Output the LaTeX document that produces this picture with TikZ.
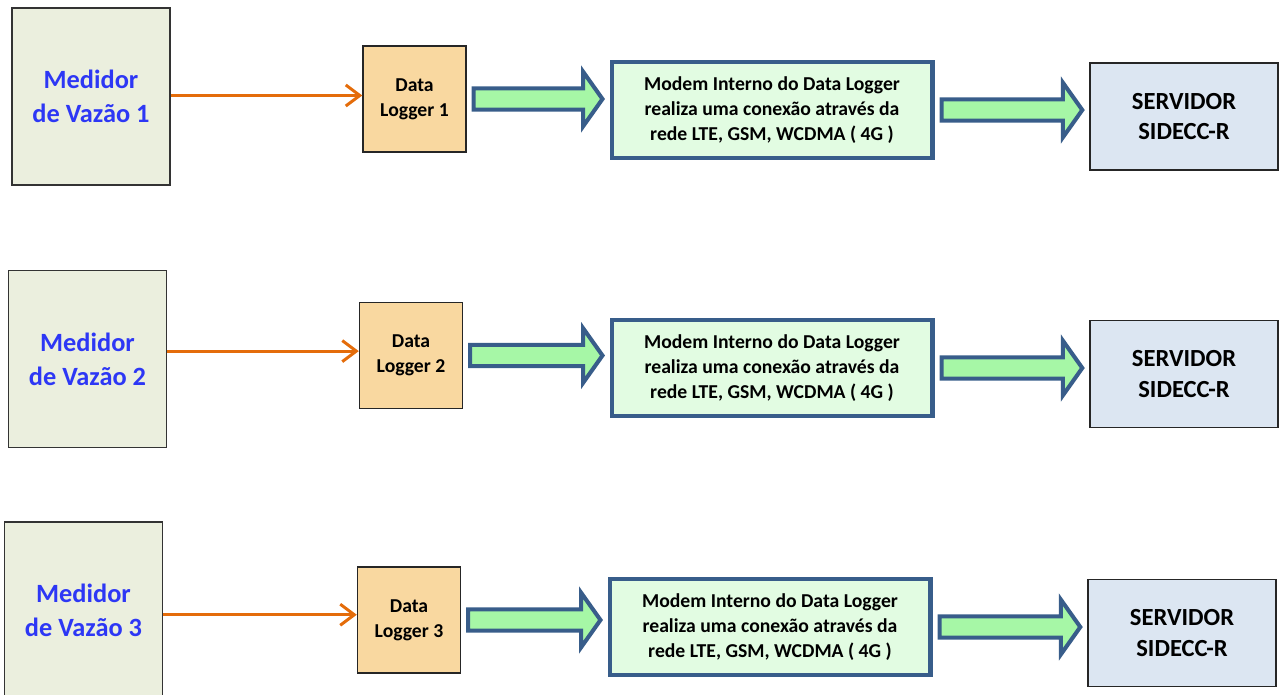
\documentclass[tikz,border=0pt]{standalone}
\usepackage{fontspec}
\setmainfont{Carlito}
\usetikzlibrary{arrows.meta, calc}

\definecolor{medfill}{RGB}{235,239,222}
\definecolor{medtext}{RGB}{45,55,245}
\definecolor{wireorange}{RGB}{228,108,10}
\definecolor{dlfill}{RGB}{249,216,160}
\definecolor{modemfill}{RGB}{226,252,226}
\definecolor{modemline}{RGB}{56,93,138}
\definecolor{arrfill}{RGB}{166,247,166}
\definecolor{srvfill}{RGB}{220,230,242}

% fat arrow from the east side of #1 to the west side of #2
\newcommand\blockarrow[2]{%
  \draw[blockarr] let \p1=(#1.east), \p2=(#2.west) in
    ({\x1+4pt},{\y1+6pt}) -- ({\x2-15pt},{\y1+6pt}) -- ({\x2-15pt},{\y1+15.5pt})
    -- ({\x2-4pt},\y1) -- ({\x2-15pt},{\y1-15.5pt}) -- ({\x2-15pt},{\y1-6pt})
    -- ({\x1+4pt},{\y1-6pt}) -- cycle;}

\begin{document}
\begin{tikzpicture}[x=0.02cm, y=-0.02cm,
    medidor/.style={rectangle, draw=black!80, line width=0.8pt, fill=medfill,
      minimum width=3.16cm, minimum height=3.54cm, align=center, text=medtext,
      font=\fontsize{15}{19.3}\selectfont\bfseries},
    logger/.style={rectangle, draw=black!85, line width=0.8pt, fill=dlfill,
      minimum width=2.06cm, minimum height=2.12cm, align=center,
      font=\fontsize{11.2}{14.2}\selectfont\bfseries},
    modem/.style={rectangle, draw=modemline, line width=2.3pt, fill=modemfill,
      minimum width=6.42cm, minimum height=1.92cm, align=center,
      font=\fontsize{11.2}{14.2}\selectfont\bfseries},
    servidor/.style={rectangle, draw=black!85, line width=0.8pt, fill=srvfill,
      minimum width=3.76cm, minimum height=2.14cm, align=center,
      font=\fontsize{14}{17.6}\selectfont\bfseries},
    wire/.style={draw=wireorange, line width=1.7pt,
      -{Straight Barb[length=8pt, width=12pt]}},
    blockarr/.style={draw=modemline, line width=2.3pt, fill=arrfill, line join=miter}]

    \useasboundingbox (0,0) rectangle (1284,694);

    % Row 1
    \node at (91, 96.5) [medidor] (med1) {Medidor\\de Vazão 1};
    \node at (414.5, 99) [logger] (dl1) {Data\\Logger 1};
    \node at (772, 110) [modem] (mo1) {Modem Interno do Data Logger\\realiza uma conexão através da\\rede LTE, GSM, WCDMA ( 4G )};
    \node at (1184, 116.5) [servidor] (srv1) {SERVIDOR\\SIDECC-R};

    % Row 2
    \node at (87.5, 359) [medidor] (med2) {Medidor\\de Vazão 2};
    \node at (411, 355.5) [logger] (dl2) {Data\\Logger 2};
    \node at (772, 368) [modem] (mo2) {Modem Interno do Data Logger\\realiza uma conexão através da\\rede LTE, GSM, WCDMA ( 4G )};
    \node at (1184, 374) [servidor] (srv2) {SERVIDOR\\SIDECC-R};

    % Row 3
    \node at (83.5, 610.5) [medidor] (med3) {Medidor\\de Vazão 3};
    \node at (409, 620) [logger] (dl3) {Data\\Logger 3};
    \node at (770, 627) [modem] (mo3) {Modem Interno do Data Logger\\realiza uma conexão através da\\rede LTE, GSM, WCDMA ( 4G )};
    \node at (1182, 633) [servidor] (srv3) {SERVIDOR\\SIDECC-R};

    % meter -> logger
    \coordinate (in1) at ([yshift=2pt]dl1.west);
    \coordinate (in2) at ([yshift=2.5pt]dl2.west);
    \coordinate (in3) at ([yshift=3pt]dl3.west);
    \draw[wire] (med1.east |- in1) -- (in1);
    \draw[wire] (med2.east |- in2) -- (in2);
    \draw[wire] (med3.east |- in3) -- (in3);

    % logger -> modem -> server
    \blockarrow{dl1}{mo1}
    \blockarrow{mo1}{srv1}
    \blockarrow{dl2}{mo2}
    \blockarrow{mo2}{srv2}
    \blockarrow{dl3}{mo3}
    \blockarrow{mo3}{srv3}

\end{tikzpicture}
\end{document}
